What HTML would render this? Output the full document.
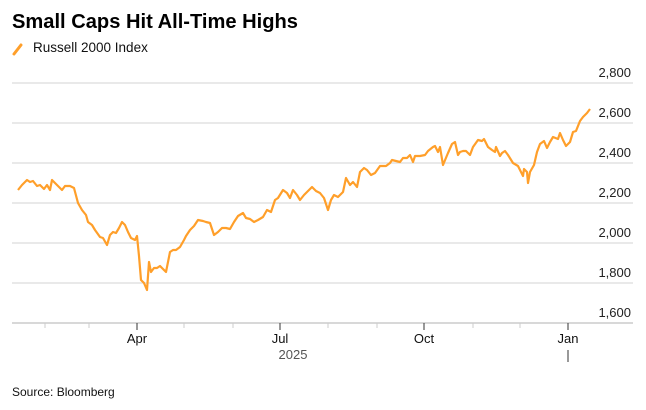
<!DOCTYPE html>
<html><head><meta charset="utf-8"><style>
body{margin:0;background:#fff;font-family:"Liberation Sans",sans-serif;}
</style></head><body>
<svg width="646" height="405" xmlns="http://www.w3.org/2000/svg" font-family="Liberation Sans, sans-serif">
<rect width="646" height="405" fill="#fff"/>
<text x="12" y="28" font-size="20" font-weight="bold" fill="#000" textLength="286" lengthAdjust="spacingAndGlyphs">Small Caps Hit All-Time Highs</text>
<line x1="14" y1="54" x2="21" y2="45" stroke="#ff9f2a" stroke-width="3" stroke-linecap="round"/>
<text x="33" y="52" font-size="13.5" fill="#111">Russell 2000 Index</text>
<g stroke="#dcdcdc" stroke-width="1.2">
<line x1="12" y1="83" x2="633" y2="83"/><line x1="12" y1="123" x2="633" y2="123"/>
<line x1="12" y1="163" x2="633" y2="163"/><line x1="12" y1="203" x2="633" y2="203"/>
<line x1="12" y1="243" x2="633" y2="243"/><line x1="12" y1="283" x2="633" y2="283"/>
</g>
<line x1="12" y1="323" x2="633" y2="323" stroke="#ccc" stroke-width="1.5"/>
<g font-size="13" fill="#222" text-anchor="end">
<text x="631" y="77">2,800</text><text x="631" y="117">2,600</text><text x="631" y="157">2,400</text>
<text x="631" y="197">2,200</text><text x="631" y="237">2,000</text><text x="631" y="277">1,800</text>
<text x="631" y="317">1,600</text></g>
<g stroke="#ccc" stroke-width="1">
<line x1="45" y1="323" x2="45" y2="328"/><line x1="89" y1="323" x2="89" y2="328"/>
<line x1="184" y1="323" x2="184" y2="328"/><line x1="233" y1="323" x2="233" y2="328"/>
<line x1="328" y1="323" x2="328" y2="328"/><line x1="377" y1="323" x2="377" y2="328"/>
<line x1="473" y1="323" x2="473" y2="328"/><line x1="520" y1="323" x2="520" y2="328"/>
</g>
<g stroke="#333" stroke-width="1">
<line x1="137" y1="323" x2="137" y2="330"/><line x1="280" y1="323" x2="280" y2="330"/>
<line x1="424" y1="323" x2="424" y2="330"/><line x1="568" y1="323" x2="568" y2="330"/>
<line x1="568" y1="350" x2="568" y2="362"/>
</g>
<g font-size="13" fill="#111" text-anchor="middle">
<text x="137" y="343">Apr</text><text x="280" y="343">Jul</text><text x="424" y="343">Oct</text><text x="568" y="343">Jan</text>
<text x="293" y="359" fill="#555">2025</text></g>
<text x="12" y="396" font-size="12" fill="#111">Source: Bloomberg</text>
<polyline fill="none" stroke="#ff9f2a" stroke-width="2.2" stroke-linejoin="round" points="18,190 22,185 27,180 30,182 33,181 37,186 40,185 44,189 47,185 50,190 52,180 55,183 58,186 62,190 65,186 70,186 74,188 78,203 82,210 86,215 88,222 92,225 95,230 100,237 103,238 107,245 110,235 113,232 116,233 119,228 122,222 125,225 128,232 131,238 135,240 137,236 139,256 141,280 144,283 147,290 149,262 151,272 154,268 157,268 160,266 163,269 166,272 170,252 173,250 176,250 180,247 184,240 186,236 190,230 194,226 198,220 203,221 206,222 210,223 214,235 218,232 222,228 226,228 230,229 234,222 238,216 243,213 246,218 250,219 254,222 258,220 263,217 267,210 271,212 275,200 278,198 283,190 287,193 290,198 293,190 297,195 300,200 304,195 308,191 312,187 316,191 320,193 324,198 328,210 331,200 334,195 338,197 343,192 346,178 350,185 353,182 357,187 360,172 364,168 367,170 371,175 375,173 380,166 386,166 390,163 392,160 400,162 403,158 407,158 410,155 413,162 415,156 420,156 425,155 428,151 433,147 435,146 438,152 440,147 443,165 448,153 452,144 455,142 458,155 460,152 463,151 466,151 470,155 473,147 478,140 482,141 484,139 488,147 492,150 495,152 496,147 500,156 502,153 505,151 508,155 513,163 518,166 520,170 523,176 524,169 527,172 528,183 530,172 534,165 537,152 540,144 544,141 547,148 550,142 553,137 558,139 560,133 563,140 566,146 570,142 573,132 576,131 580,121 583,117 587,113 590,109"/>
</svg>
</body></html>
